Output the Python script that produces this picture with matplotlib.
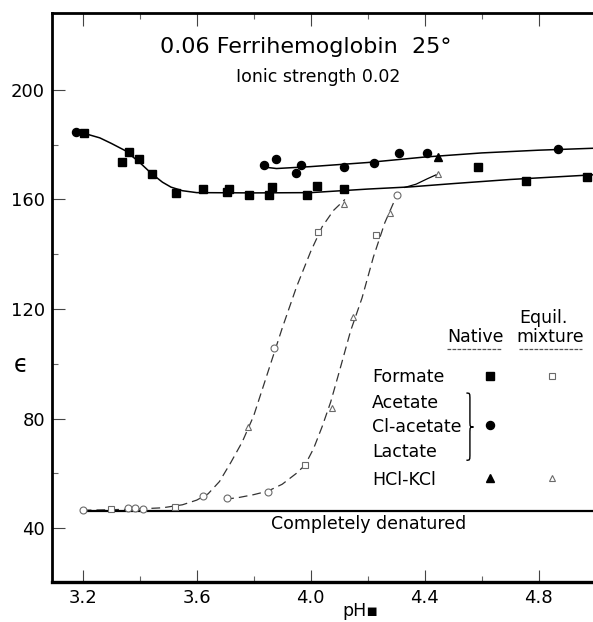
import matplotlib
matplotlib.use("Agg")
import matplotlib.pyplot as plt
from matplotlib.path import Path
from matplotlib.patches import PathPatch

plt.rcParams['font.family'] = ['DejaVu Sans']

# ---------------- data ----------------
x_ticks = [3.2, 3.6, 4.0, 4.4, 4.8]
x_tick_labels = ["3.2", "3.6", "4.0", "4.4", "4.8"]
x_minor = [3.4, 3.8, 4.2, 4.6]
y_ticks = [40, 80, 120, 160, 200]
y_tick_labels = ["40", "80", "120", "160", "200"]
y_minor = [60, 100, 140, 180]

# native points
sq_x = [3.205, 3.339, 3.364, 3.399, 3.442, 3.526, 3.623, 3.705, 3.714, 3.783,
        3.853, 3.864, 3.988, 4.021, 4.118, 4.588, 4.754, 4.970]
sq_y = [184.3, 173.8, 177.5, 174.7, 169.3, 162.3, 163.7, 162.6, 163.7, 161.5,
        161.5, 164.7, 161.8, 164.8, 163.8, 171.8, 166.9, 168.1]
ci_x = [3.175, 3.836, 3.878, 3.948, 3.967, 4.118, 4.223, 4.311, 4.407, 4.868]
ci_y = [184.8, 172.7, 174.7, 169.6, 172.7, 172.0, 173.2, 176.9, 177.1, 178.6]
tr_x = [4.448]
tr_y = [175.6]

# equilibrium mixture points (open)
eq_ci_x = [3.20, 3.36, 3.385, 3.41, 3.623, 3.705, 3.85, 3.87, 4.302]
eq_ci_y = [46.6, 47.2, 47.4, 46.9, 51.7, 50.8, 53.3, 105.6, 161.6]
eq_sq_x = [3.30, 3.524, 3.98, 4.027, 4.229]
eq_sq_y = [46.8, 47.6, 63.0, 148.2, 147.0]
eq_tr_x = [3.781, 4.074, 4.149, 4.117, 4.278, 4.448]
eq_tr_y = [77.0, 83.7, 117.2, 158.5, 155.0, 169.3]

# native curves
low_x = [3.20, 3.26, 3.30, 3.35, 3.40, 3.44, 3.48, 3.51, 3.55, 3.60, 3.80,
         4.00, 4.20, 4.35, 4.50, 4.70, 4.99]
low_y = [184.3, 182.5, 180.5, 177.8, 173.5, 169.6, 166.3, 164.5, 163.2, 162.5,
         162.4, 162.5, 163.8, 164.6, 165.8, 167.3, 169.0]
up_x = [3.84, 3.88, 4.00, 4.20, 4.40, 4.60, 4.80, 4.99]
up_y = [171.8, 171.3, 172.0, 173.5, 175.5, 177.0, 178.0, 178.7]
conn_x = [4.33, 4.37, 4.41, 4.44]
conn_y = [164.4, 165.6, 167.6, 169.0]

# equilibrium curves
eql_x = [3.20, 3.30, 3.40, 3.48, 3.55, 3.60, 3.64, 3.68, 3.72, 3.76, 3.80,
         3.85, 3.90, 3.95, 4.00, 4.04, 4.08, 4.12]
eql_y = [46.5, 46.7, 47.0, 47.4, 48.5, 50.2, 52.5, 57.0, 64.0, 71.5, 81.0,
         97.0, 113.0, 128.0, 141.0, 150.0, 156.0, 160.0]
eqr_x = [3.70, 3.75, 3.80, 3.85, 3.90, 3.95, 3.98, 4.01, 4.04, 4.07, 4.10,
         4.14, 4.18, 4.22, 4.26, 4.30]
eqr_y = [50.5, 51.2, 52.2, 53.5, 56.0, 60.0, 63.0, 69.0, 77.0, 86.0, 97.0,
         112.0, 124.0, 139.0, 151.5, 161.0]

denat_x = [3.20, 4.99]
denat_y = [46.3, 46.3]

# ---------------- figure ----------------
fig = plt.figure(figsize=(5.93, 6.22), dpi=100)
ax = fig.add_axes([52/593, 1-582/622, 541/593, 569/622])
ax.set_xlim(3.0923, 4.9905)
ax.set_ylim(20.3, 228.1)

eqc = '#6a6a6a'
# curves
ax.plot(low_x, low_y, color='black', lw=1.1)
ax.plot(up_x, up_y, color='black', lw=1.1)
ax.plot(conn_x, conn_y, color='black', lw=0.9)
ax.plot(eql_x, eql_y, color='#333333', lw=0.9, dashes=(7, 4))
ax.plot(eqr_x, eqr_y, color='#333333', lw=0.9, dashes=(7, 4))
ax.plot(denat_x, denat_y, color='black', lw=1.6)

# native markers
ax.plot(sq_x, sq_y, 's', color='black', ms=5.5, ls='none')
ax.plot(ci_x, ci_y, 'o', color='black', ms=5.8, ls='none')
ax.plot(tr_x, tr_y, '^', color='black', ms=5.5, ls='none')
# equilibrium markers
ax.plot(eq_ci_x, eq_ci_y, 'o', mfc='white', mec=eqc, mew=0.8, ms=5, ls='none')
ax.plot(eq_sq_x, eq_sq_y, 's', mfc='white', mec=eqc, mew=0.8, ms=4.5, ls='none')
ax.plot(eq_tr_x, eq_tr_y, '^', mfc='white', mec=eqc, mew=0.8, ms=5, ls='none')

# axes styling
ax.spines['right'].set_visible(False)
ax.spines['left'].set_linewidth(2.0)
ax.spines['bottom'].set_linewidth(2.4)
ax.spines['top'].set_linewidth(2.0)

ax.set_xticks(x_ticks)
ax.set_xticklabels(x_tick_labels)
ax.set_xticks(x_minor, minor=True)
ax.set_yticks(y_ticks)
ax.set_yticklabels(y_tick_labels)
ax.set_yticks(y_minor, minor=True)
ax.tick_params(axis='both', which='major', direction='in', length=9, width=0.8,
               color='#444444', labelsize=13, pad=5, top=True)
ax.tick_params(axis='both', which='minor', direction='in', length=4, width=0.8,
               color='#666666', top=True)

# texts
ax.text(0.4695, 0.940, "0.06 Ferrihemoglobin  25°", transform=ax.transAxes,
        ha='center', va='center', fontsize=16)
ax.text(0.4917, 0.8875, "Ionic strength 0.02", transform=ax.transAxes,
        ha='center', va='center', fontsize=12.5)
ax.text(0.586, 0.102, "Completely denatured", transform=ax.transAxes,
        ha='center', va='center', fontsize=12.5)
ax.text(-0.057, 0.381, "ϵ", transform=ax.transAxes, ha='center', va='center',
        fontsize=17)
fig.text(360/593, 1-611/622, "pH▪", ha='center', va='center', fontsize=12.5)

# legend block
ax.text(0.9076, 0.464, "Equil.", transform=ax.transAxes, ha='center', va='center', fontsize=12.5)
ax.text(0.782, 0.4306, "Native", transform=ax.transAxes, ha='center', va='center', fontsize=12.5)
ax.text(0.9205, 0.4306, "mixture", transform=ax.transAxes, ha='center', va='center', fontsize=12.5)
ax.plot([0.730, 0.832], [0.4095, 0.4095], transform=ax.transAxes, color='#555555', lw=0.9, dashes=(3, 1))
ax.plot([0.863, 0.980], [0.4095, 0.4095], transform=ax.transAxes, color='#555555', lw=0.9, dashes=(3, 1))
leg_labels = ["Formate", "Acetate", "Cl-acetate", "Lactate", "HCl-KCl"]
leg_y = [0.3603, 0.3146, 0.2724, 0.2285, 0.1793]
for lab, yy in zip(leg_labels, leg_y):
    ax.text(0.5915, yy, lab, transform=ax.transAxes, ha='left', va='center', fontsize=12.5)

# brace (decoration)
xl, w = 0.766, 0.013
yt, yb, ym, q = 0.332, 0.214, 0.2724, 0.012
xm = xl + w / 2
verts = [(xl, yt), (xm, yt), (xm, yt), (xm, yt - q), (xm, ym + q),
         (xm, ym), (xm, ym), (xl + w, ym),
         (xm, ym), (xm, ym), (xm, ym - q), (xm, yb + q),
         (xm, yb), (xm, yb), (xl, yb)]
codes = [Path.MOVETO, Path.CURVE4, Path.CURVE4, Path.CURVE4, Path.LINETO,
         Path.CURVE4, Path.CURVE4, Path.CURVE4,
         Path.CURVE4, Path.CURVE4, Path.CURVE4, Path.LINETO,
         Path.CURVE4, Path.CURVE4, Path.CURVE4]
ax.add_patch(PathPatch(Path(verts, codes), transform=ax.transAxes,
                       facecolor='none', edgecolor='black', lw=1.0))

ax.plot([0.8096], [0.362], 's', color='black', ms=5.5, transform=ax.transAxes)
ax.plot([0.8096], [0.2759], 'o', color='black', ms=5.8, transform=ax.transAxes)
ax.plot([0.8096], [0.1828], '^', color='black', ms=5.5, transform=ax.transAxes)
ax.plot([0.924], [0.362], 's', mfc='white', mec=eqc, mew=0.8, ms=4.5, transform=ax.transAxes)
ax.plot([0.924], [0.1828], '^', mfc='white', mec=eqc, mew=0.8, ms=5, transform=ax.transAxes)

fig.savefig("out.png", dpi=100)
